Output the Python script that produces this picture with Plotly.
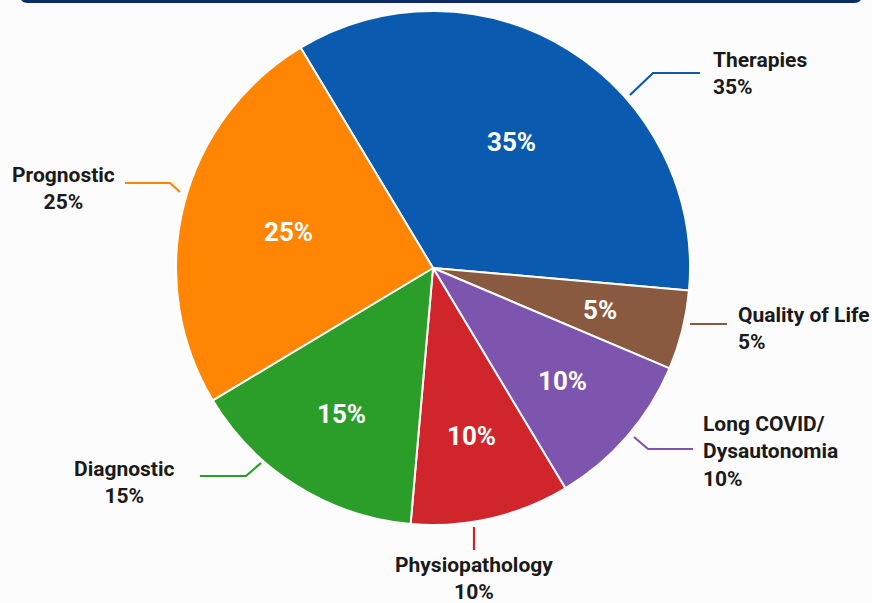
import math
import plotly.graph_objects as go

# ---- data ----
categories = ["Therapies", "Quality of Life", "Long COVID/<br>Dysautonomia",
              "Physiopathology", "Diagnostic", "Prognostic"]
values = [35, 5, 10, 10, 15, 25]
colors = ["#0A5BAF", "#8A5A40", "#7D54AE", "#D0252A", "#2B9E2A", "#FF8503"]

W, H = 872, 603
CX, CY, R = 433, 268, 257
ROT = -31

def px(x):
    return x / W

def py(y):
    return 1 - y / H

fig = go.Figure()
fig.add_trace(go.Pie(
    labels=categories, values=values, sort=False, direction="clockwise",
    rotation=ROT, marker=dict(colors=colors, line=dict(color="white", width=2)),
    textinfo="none",
    domain=dict(x=[px(CX - R), px(CX + R)], y=[py(CY + R), py(CY - R)]),
    showlegend=False, hoverinfo="label+percent",
))

shapes = []
annotations = []

# inside percentage labels, placed at each slice's mid-angle
total = sum(values)
cum = 0
for val in values:
    mid = ROT + (cum + val / 2) / total * 360
    cum += val
    frac = 0.58 if val >= 25 else 0.67
    a = math.radians(mid)
    x = CX + frac * R * math.sin(a)
    y = CY - frac * R * math.cos(a)
    annotations.append(dict(
        x=px(x), y=py(y), xref="paper", yref="paper", xanchor="center",
        yanchor="middle", showarrow=False, text=f"{val}%",
        font=dict(family="Roboto", size=26, color="white", weight="bold")))

# outside label layout: (leader polyline in px, label anchor px, xanchor, align)
label_layout = [
    ([(630, 95), (653, 73), (700, 73)], (711, 73), "left", "left"),
    ([(690, 324), (727, 324)], (736, 328), "left", "left"),
    ([(634, 437), (648, 449), (693, 449)], (701, 451), "left", "left"),
    ([(474, 527), (474, 550)], (474, 578), "center", "center"),
    ([(261, 463), (246, 476), (200, 476)], (124, 482), "center", "center"),
    ([(180, 192), (170, 183), (125, 183)], (63, 188), "center", "center"),
]

for cat, val, col, (pts, (lx, ly), xa, al) in zip(categories, values, colors, label_layout):
    path = "M " + " L ".join(f"{px(x):.5f},{py(y):.5f}" for x, y in pts)
    shapes.append(dict(type="path", xref="paper", yref="paper", path=path,
                       line=dict(color=col, width=2.2)))
    annotations.append(dict(
        x=px(lx), y=py(ly), xref="paper", yref="paper", xanchor=xa, yanchor="middle",
        align=al, showarrow=False, text=f"{cat}<br>{val}%",
        font=dict(family="Roboto", size=21, color="#1a1a1a", weight="bold"),
    ))

# top navy banner with rounded bottom corners
r = 8
x0, x1, y0, yb = px(20), px(862), py(-20), py(3)
rx, ry = r / W, r / H
shapes.append(dict(
    type="path", xref="paper", yref="paper", layer="below",
    path=(f"M {x0},{y0} L {x0},{yb + ry} Q {x0},{yb} {x0 + rx},{yb} "
          f"L {x1 - rx},{yb} Q {x1},{yb} {x1},{yb + ry} L {x1},{y0} Z"),
    fillcolor="#0B2A66", line=dict(width=0)))

fig.update_layout(
    width=W, height=H, margin=dict(l=0, r=0, t=0, b=0),
    paper_bgcolor="#FCFCFC", plot_bgcolor="#FCFCFC",
    shapes=shapes, annotations=annotations,
)
fig.write_html("out.html")
